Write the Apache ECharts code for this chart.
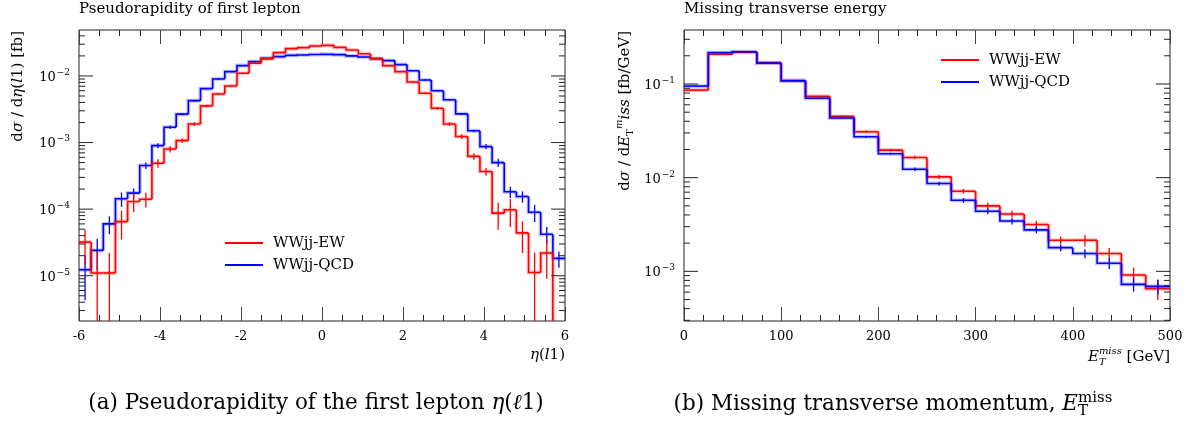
<!DOCTYPE html>
<html><head><meta charset="utf-8">
<script src="https://cdn.jsdelivr.net/npm/echarts@6/dist/echarts.min.js"></script>
<style>html,body{margin:0;padding:0;background:#fff}#c{width:1194px;height:423px}</style>
</head><body><div id="c"></div>
<script>
// ---------------- data ----------------
const ETA_EDGES = [-6,-5.7,-5.4,-5.1,-4.8,-4.5,-4.2,-3.9,-3.6,-3.3,-3,-2.7,-2.4,-2.1,-1.8,-1.5,-1.2,-0.9,-0.6,-0.3,0,0.3,0.6,0.9,1.2,1.5,1.8,2.1,2.4,2.7,3,3.3,3.6,3.9,4.2,4.5,4.8,5.1,5.4,5.7,6];
const ETA_EW = [3.2e-5,1.1e-5,1.1e-5,6.5e-5,1.3e-4,1.41e-4,4.9e-4,8.0e-4,1.07e-3,1.9e-3,3.55e-3,5.37e-3,7.08e-3,1.1e-2,1.55e-2,1.82e-2,2.24e-2,2.57e-2,2.66e-2,2.82e-2,2.88e-2,2.69e-2,2.45e-2,2.16e-2,1.82e-2,1.43e-2,1.16e-2,8.1e-3,5.5e-3,3.27e-3,1.9e-3,1.23e-3,6.2e-4,3.67e-4,8.7e-5,9.8e-5,4.4e-5,1.12e-5,2.2e-5,0];
const ETA_EW_ERR = [1.7e-5,1.2e-5,1.1e-5,3e-5,4e-5,3.5e-5,7e-5,9e-5,8e-5,1.1e-4,1.5e-4,2e-4,2.2e-4,2.5e-4,2.5e-4,2.5e-4,2.5e-4,2.5e-4,2.5e-4,2.5e-4,2.5e-4,2.5e-4,2.5e-4,2.5e-4,2.5e-4,2.5e-4,2.5e-4,2.4e-4,2e-4,1.6e-4,1.3e-4,1e-4,7e-5,5e-5,3.8e-5,4.4e-5,2.2e-5,1.1e-5,1.3e-5,0];
const ETA_QCD = [1.23e-5,2.4e-5,6.0e-5,1.43e-4,1.74e-4,4.52e-4,9.0e-4,1.70e-3,2.67e-3,4.26e-3,6.45e-3,9.0e-3,1.16e-2,1.43e-2,1.64e-2,1.84e-2,1.95e-2,2.04e-2,2.06e-2,2.1e-2,2.11e-2,2.09e-2,2.0e-2,1.93e-2,1.82e-2,1.70e-2,1.48e-2,1.20e-2,8.7e-3,6.0e-3,4.4e-3,2.7e-3,1.5e-3,8.7e-4,5.0e-4,1.82e-4,1.55e-4,9.0e-5,4.2e-5,1.82e-5];
const ETA_QCD_ERR = [0.8e-5,1.2e-5,1.8e-5,3.5e-5,3e-5,5e-5,8e-5,1e-4,1e-4,1.3e-4,1.5e-4,2e-4,2e-4,2e-4,2e-4,2e-4,2e-4,2e-4,2e-4,2e-4,2e-4,2e-4,2e-4,2e-4,2e-4,2e-4,2e-4,2e-4,1.7e-4,1.4e-4,1.2e-4,9e-5,7e-5,8e-5,7e-5,3.5e-5,3e-5,2.6e-5,1.2e-5,0.5e-5];

const MET_EDGES = [0,25,50,75,100,125,150,175,200,225,250,275,300,325,350,375,400,425,450,475,500];
const MET_EW = [0.086,0.208,0.218,0.169,0.109,0.0738,0.0451,0.0309,0.0197,0.0164,0.0102,0.00717,0.0050,0.0041,0.00316,0.00215,0.00215,0.00155,0.000913,0.000653];
const MET_EW_ERR = [0.0009,0.002,0.002,0.0017,0.0011,0.0008,0.0006,0.0009,0.0006,0.0007,0.0005,0.0004,0.0004,0.00033,0.00028,0.0002,0.0003,0.00022,0.00018,0.00016];
const MET_QCD = [0.095,0.216,0.221,0.167,0.108,0.0703,0.0433,0.0273,0.018,0.0123,0.00867,0.00574,0.00438,0.00345,0.00277,0.00179,0.00155,0.00122,0.000726,0.000691];
const MET_QCD_ERR = [0.0009,0.002,0.002,0.0017,0.0011,0.0007,0.0005,0.0008,0.0005,0.0005,0.0004,0.00035,0.0003,0.00028,0.00022,0.00015,0.00017,0.00016,0.00012,0.00012];

const SERIES_NAMES = ['WWjj-EW','WWjj-QCD'];
const ETA_TICKS = [-6,-4,-2,0,2,4,6];
const MET_TICKS = [0,100,200,300,400,500];
const EXP_LABELS_L = [-5,-4,-3,-2];
const EXP_LABELS_R = [-3,-2,-1];

// ---------------- layout ----------------
const FONT = "'DejaVu Serif', serif";
const RED = '#ff0000', BLUE = '#0000ff';
const Y_L = [2.09e-6, 0.049];
const Y_R = [2.95e-4, 0.377];
const GL = {left:79, top:30, width:486, height:291};
const GR = {left:684, top:30, width:486, height:291};

const cv = document.createElement('canvas').getContext('2d');
function tw(t, size, style){ cv.font = (style||'normal') + ' ' + size + 'px ' + FONT; return cv.measureText(t).width; }

function makeHist(name, edges, vals, errs, color, halo, idx, z){
  return {
    type:'custom', name, xAxisIndex: idx*2, yAxisIndex: idx, clip:true, z,
    itemStyle:{color}, encode:{x:[0,1], y:2},
    data: vals.map((v,i)=>[edges[i], edges[i+1], v, errs[i]]),
    renderItem(params, api){
      const i = params.dataIndex, cs = params.coordSys;
      const bot = cs.y + cs.height + 4;
      const Y = val => (val > 0 ? api.coord([api.value(0), val])[1] : bot);
      const lo = api.value(0), hi = api.value(1), v = api.value(2), e = api.value(3);
      const xl = api.coord([lo, 0.01])[0], xh = api.coord([hi, 0.01])[0], xc = (xl+xh)/2;
      const y = Y(v);
      const pts = [];
      if (i > 0) pts.push([xl, Y(vals[i-1])]);
      pts.push([xl, y], [xh, y]);
      const ch = [
        {type:'polyline', shape:{points:pts}, style:{stroke:halo, lineWidth:4, fill:null}},
        {type:'polyline', shape:{points:pts}, style:{stroke:color, lineWidth:1.6, fill:null}}
      ];
      if (v > 0 && e > 0) ch.push({type:'line', shape:{x1:xc, y1:Y(v+e), x2:xc, y2:Y(v-e)}, style:{stroke:color, lineWidth:1.3}});
      return {type:'group', children:ch};
    }
  };
}

function logTicks(range, x0){
  const out = [];
  for (let n=-8; n<=1; n++) for (let k=1; k<=9; k++){
    const v = k*Math.pow(10,n);
    if (v > range[0] && v < range[1]) out.push([x0, v, k]);
  }
  return out;
}
function makeTicks(range, x0, idx){
  return {
    type:'custom', xAxisIndex: idx*2, yAxisIndex: idx, silent:true, z:20, clip:false,
    encode:{x:0, y:1}, data: logTicks(range, x0),
    renderItem(params, api){
      const cs = params.coordSys;
      const y = api.coord([api.value(0), api.value(1)])[1];
      const len = api.value(2) === 1 ? 14 : 6;
      const st = {stroke:'#222', lineWidth:1};
      return {type:'group', children:[
        {type:'line', shape:{x1:cs.x, y1:y, x2:cs.x+len, y2:y}, style:st},
        {type:'line', shape:{x1:cs.x+cs.width-len, y1:y, x2:cs.x+cs.width, y2:y}, style:st}
      ]};
    }
  };
}

const labRich = {
  b:{fontSize:13, fontFamily:FONT, color:'#000', verticalAlign:'bottom'},
  e:{fontSize:9, fontFamily:FONT, color:'#000', verticalAlign:'bottom', padding:[0,0,7,1]}
};
function expFormatter(allowed){
  return v => {
    const l = Math.log10(v), r = Math.round(l);
    if (Math.abs(l-r) > 0.01 || allowed.indexOf(r) < 0) return '';
    return '{b|10}{e|\u2212' + (-r) + '}';
  };
}
function xAx(gi, min, max, interval, split, pos, ticks){
  return {
    gridIndex:gi, type:'value', min, max, interval, position:pos,
    axisLine:{show:false},
    axisTick:{show:true, inside:true, length:14, lineStyle:{color:'#444', width:1}},
    minorTick:{show:true, splitNumber:split, length:6, lineStyle:{color:'#222', width:1}},
    splitLine:{show:false}, minorSplitLine:{show:false},
    axisLabel:{show: pos==='bottom', margin:9, fontSize:13, fontFamily:FONT, color:'#000',
      formatter: v => (ticks.indexOf(v) >= 0 ? String(v) : '')}
  };
}
function yAx(gi, range, allowed){
  return {
    gridIndex:gi, type:'log', min:range[0], max:range[1],
    axisLine:{show:false}, axisTick:{show:false}, splitLine:{show:false}, minorSplitLine:{show:false},
    axisLabel:{margin:9, formatter: expFormatter(allowed), rich: labRich}
  };
}

const R = {
  n:{fontFamily:FONT, fontSize:15, color:'#000', verticalAlign:'bottom', padding:[0,0,3,0]},
  i:{fontFamily:FONT, fontSize:15, fontStyle:'italic', color:'#000', verticalAlign:'bottom', padding:[0,0,3,0]},
  sup:{fontFamily:FONT, fontSize:10, fontStyle:'italic', color:'#000', verticalAlign:'bottom', padding:[0,0,11,0]},
  sub:{fontFamily:FONT, fontSize:10, color:'#000', verticalAlign:'bottom', padding:[0,0,0,0]}
};
const CAP = 21.5;
const CAPS = 15;
const RC = {
  n:{fontFamily:FONT, fontSize:CAP, color:'#000', verticalAlign:'bottom'},
  i:{fontFamily:FONT, fontSize:CAP, fontStyle:'italic', color:'#000', verticalAlign:'bottom'},
  sup:{fontFamily:FONT, fontSize:CAPS, color:'#000', verticalAlign:'bottom', padding:[0,0,10,0]}
};

// caption (b) with stacked sub/sup
const capBMain = '(b) Missing transverse momentum, ';
const capBW = tw(capBMain, CAP) + tw('E', CAP, 'italic') + tw('miss', CAPS);
const capBX = 893 - capBW/2;
const capBEx = capBX + tw(capBMain, CAP) + tw('E', CAP, 'italic');
// x-axis name right
const xnW = tw('E',15,'italic') + tw('miss',10,'italic') + tw(' [GeV]',15);
const xnX = 1170 - xnW;

const graphic = [
  {type:'text', left:79, top:2, style:{text:'Pseudorapidity of first lepton', font:'15px '+FONT, fill:'#000'}},
  {type:'text', left:684, top:2, style:{text:'Missing transverse energy', font:'15px '+FONT, fill:'#000'}},
  {type:'text', x:20, y:31, rotation:Math.PI/2,
    style:{text:'{n|d}{i|\u03c3}{n| / d}{i|\u03b7}{n|(}{i|l}{n|1) [fb]}', rich:R, align:'right', verticalAlign:'middle'}},
  {type:'text', x:625, y:31, rotation:Math.PI/2,
    style:{text:'{n|d}{i|\u03c3}{n| / d}{i|E}{sub|T}{sup|m}{i|iss}{n| [fb/GeV]}', rich:R, align:'right', verticalAlign:'middle'}},
  {type:'text', x:565, y:357, style:{text:'{i|\u03b7}{n|(}{i|l}{n|1)}', rich:R, align:'right', verticalAlign:'middle'}},
  {type:'text', x:xnX, y:357, style:{text:'{i|E}{sup|miss}{n| [GeV]}', rich:R, align:'left', verticalAlign:'middle'}},
  {type:'text', x:xnX + tw('E',15,'italic'), y:362, style:{text:'T', font:'italic 10px '+FONT, fill:'#000', verticalAlign:'middle'}},
  {type:'text', x:316, y:403, style:{text:'{n|(a) Pseudorapidity of the first lepton }{i|\u03b7}{n|(}{i|\u2113}{n|1)}', rich:RC, align:'center', verticalAlign:'middle'}},
  {type:'text', x:capBX, y:403, style:{text:'{n|' + capBMain + '}{i|E}{sup|miss}', rich:RC, align:'left', verticalAlign:'middle'}},
  {type:'text', x:capBEx, y:411, style:{text:'T', font:CAPS + 'px '+FONT, fill:'#000', verticalAlign:'middle'}}
];

const legendCommon = {
  orient:'vertical', itemWidth:38, itemHeight:2, itemGap:0, icon:'rect', selectedMode:false,
  textStyle:{fontFamily:FONT, fontSize:15, color:'#000', lineHeight:22, padding:[0,0,0,5]},
  data:[{name:SERIES_NAMES[0], itemStyle:{color:RED}}, {name:SERIES_NAMES[1], itemStyle:{color:BLUE}}]
};

const option = {
  animation:false,
  backgroundColor:'#fff',
  grid:[Object.assign({show:true, borderColor:'#222', borderWidth:1, backgroundColor:'transparent'}, GL),
        Object.assign({show:true, borderColor:'#222', borderWidth:1, backgroundColor:'transparent'}, GR)],
  xAxis:[xAx(0,-6,6,2,4,'bottom',ETA_TICKS), xAx(0,-6,6,2,4,'top',ETA_TICKS),
         xAx(1,0,500,100,5,'bottom',MET_TICKS), xAx(1,0,500,100,5,'top',MET_TICKS)],
  yAxis:[yAx(0,Y_L,EXP_LABELS_L), yAx(1,Y_R,EXP_LABELS_R)],
  legend:[Object.assign({left:220, top:227}, legendCommon), Object.assign({left:936, top:44}, legendCommon)],
  graphic,
  series:[
    makeHist(SERIES_NAMES[1], ETA_EDGES, ETA_QCD, ETA_QCD_ERR, BLUE, 'rgba(0,0,255,0.22)', 0, 2),
    makeHist(SERIES_NAMES[0], ETA_EDGES, ETA_EW, ETA_EW_ERR, RED, 'rgba(255,0,0,0.22)', 0, 3),
    makeHist(SERIES_NAMES[0], MET_EDGES, MET_EW, MET_EW_ERR, RED, 'rgba(255,0,0,0.22)', 1, 2),
    makeHist(SERIES_NAMES[1], MET_EDGES, MET_QCD, MET_QCD_ERR, BLUE, 'rgba(0,0,255,0.22)', 1, 3),
    makeTicks(Y_L, -6, 0),
    makeTicks(Y_R, 0, 1)
  ]
};
const chart = echarts.init(document.getElementById('c'), null, {renderer:'canvas'});
chart.setOption(option);
</script></body></html>
